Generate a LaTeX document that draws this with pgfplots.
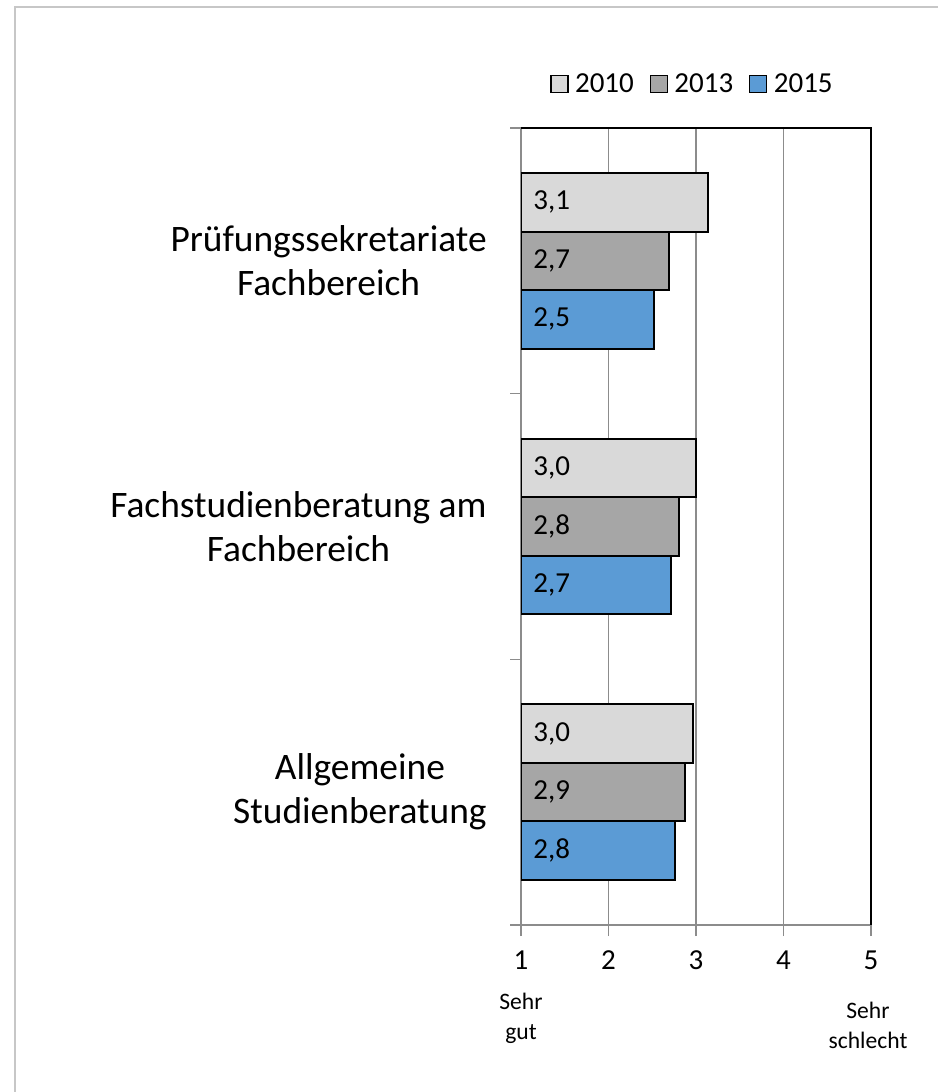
\documentclass[border=0pt]{standalone}
\usepackage{pgfplots}
\pgfplotsset{compat=1.18}
\usepackage{pgfplotstable}
\usepackage{fontspec}
\setmainfont{Carlito}
\definecolor{c10}{HTML}{D9D9D9}
\definecolor{c13}{HTML}{A6A6A6}
\definecolor{c15}{HTML}{5B9BD5}
\definecolor{gridc}{HTML}{8C8C8C}

\pgfplotstableread{
cat v10 v13 v15
0 2.97 2.87 2.76
1 3.00 2.81 2.71
2 3.14 2.69 2.52
}\data

\begin{document}
\begin{tikzpicture}
\path[use as bounding box] (0,0) rectangle (469pt,546pt);
\draw[color=black!22, line width=1.2pt] (7.5pt,0) -- (7.5pt,542.5pt) -- (469pt,542.5pt);
\begin{axis}[
 at={(260.5pt,83.5pt)}, anchor=south west,
 width=175pt, height=398.5pt, scale only axis,
 xmin=1, xmax=5, ymin=-0.5, ymax=2.5,
 xtick={1,2,3,4,5}, ytick={-0.5,0.5,1.5,2.5}, yticklabels={},
 axis x line*=bottom, axis y line*=left,
 axis line style={gridc, line width=0.75pt, -},
 tick style={gridc, line width=0.75pt},
 tick align=outside, major tick length=5.5pt,
 xmajorgrids, grid style={gridc, line width=0.6pt},
 bar width=0.22,
 clip mode=individual,
 /pgf/number format/assume math mode=true,
 xticklabel style={font=\fontsize{14.5}{17}\selectfont, yshift=-4pt},
 legend style={at={(0.493,1.055)}, anchor=center, draw=none, fill=none,
   font=\fontsize{14.5}{17}\selectfont,
   /tikz/every even column/.append style={column sep=6pt}},
 legend columns=3,
 legend image code/.code={\draw[#1, line width=0.6pt] (0pt,-4.25pt) rectangle (8.5pt,4.25pt);\path[draw=none, fill=none] (0pt,0pt) -- (10pt,0pt);},
 nodes near coords style={anchor=west, inner sep=0pt, xshift=6pt, font=\fontsize{14.5}{17}\selectfont,
   /pgf/number format/.cd, fixed, fixed zerofill, precision=1, use comma, assume math mode=true},
]
\addplot[xbar, bar shift=0.22, fill=c10, draw=black, line width=1pt] table[x=v10, y=cat] {\data};
\addlegendentry{2010}
\addplot[xbar, bar shift=0, fill=c13, draw=black, line width=1pt] table[x=v13, y=cat] {\data};
\addlegendentry{2013}
\addplot[xbar, bar shift=-0.22, fill=c15, draw=black, line width=1pt] table[x=v15, y=cat] {\data};
\addlegendentry{2015}

\addplot[forget plot, only marks, mark=*, mark size=0pt, mark options={draw=none, fill=none},
  nodes near coords, point meta=\thisrow{v10}] table[x expr=1, y expr=\thisrow{cat}+0.22] {\data};
\addplot[forget plot, only marks, mark=*, mark size=0pt, mark options={draw=none, fill=none},
  nodes near coords, point meta=\thisrow{v13}] table[x expr=1, y expr=\thisrow{cat}] {\data};
\addplot[forget plot, only marks, mark=*, mark size=0pt, mark options={draw=none, fill=none},
  nodes near coords, point meta=\thisrow{v15}] table[x expr=1, y expr=\thisrow{cat}-0.22] {\data};

\draw[black, line width=0.9pt] (rel axis cs:0,1) -- (rel axis cs:1,1) -- (rel axis cs:1,0);

\node[anchor=east, align=center, inner sep=0pt, font=\fontsize{18.7}{22}\selectfont, xshift=-17pt] at (axis cs:1,2) {Prüfungssekretariate\\Fachbereich};
\node[anchor=east, align=center, inner sep=0pt, font=\fontsize{18.7}{22}\selectfont, xshift=-17pt] at (axis cs:1,1) {Fachstudienberatung am\\Fachbereich};
\node[anchor=east, align=center, inner sep=0pt, font=\fontsize{18.7}{22}\selectfont, xshift=-17pt] at (axis cs:1,0) {Allgemeine\\Studienberatung};

\node[align=center, inner sep=0pt, font=\fontsize{11.8}{15}\selectfont, yshift=-46.5pt] at (axis cs:1,-0.5) {Sehr\\gut};
\node[align=center, inner sep=0pt, font=\fontsize{11.8}{15}\selectfont, yshift=-50pt, xshift=-1.5pt] at (axis cs:5,-0.5) {Sehr\\schlecht};
\end{axis}
\end{tikzpicture}
\end{document}
